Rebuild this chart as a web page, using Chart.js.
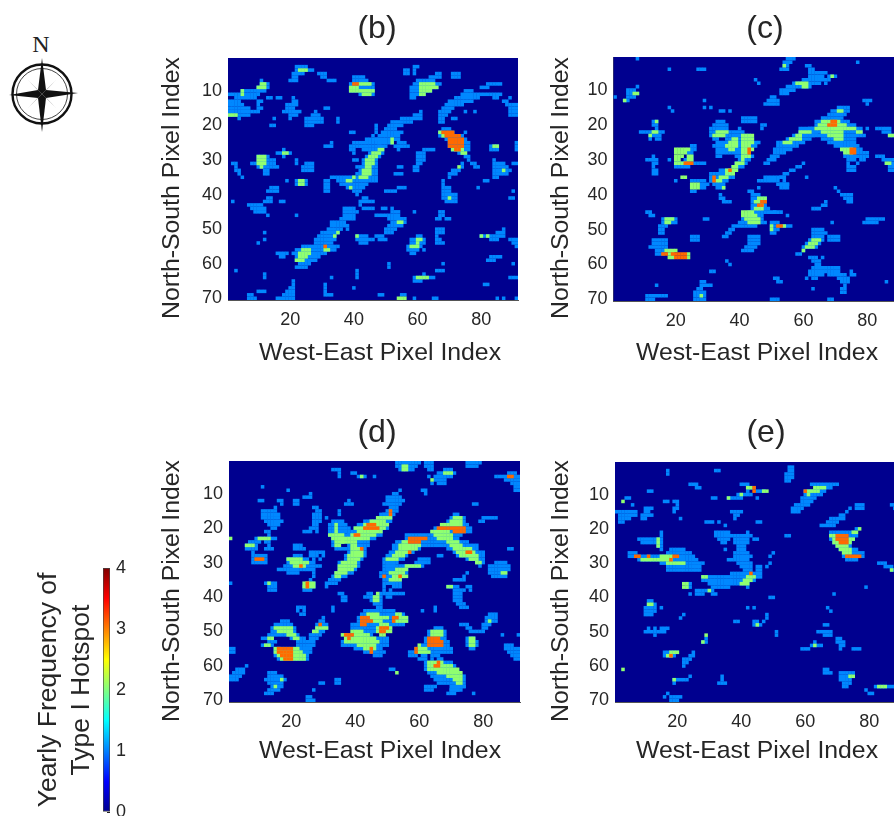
<!DOCTYPE html>
<html><head><meta charset="utf-8">
<script src="https://cdn.jsdelivr.net/npm/chart.js@4"></script>
<style>
html,body{margin:0;padding:0;width:894px;height:816px;overflow:hidden;background:#fff}
canvas{position:absolute}
svg{position:absolute;left:0;top:0}
</style></head><body>
<svg width="90" height="140" viewBox="0 0 90 140">
<text x="41" y="52" font-family="Liberation Serif" font-size="24" text-anchor="middle" fill="#222">N</text>
<circle cx="42" cy="94" r="29.5" fill="none" stroke="#111" stroke-width="2.4"/>
<circle cx="42" cy="94" r="25.5" fill="none" stroke="#444" stroke-width="1"/>
<g fill="#666">
<polygon points="42,94 28,80 38.5,91"/><polygon points="42,94 56,80 45.5,91"/>
<polygon points="42,94 28,108 38.5,97"/><polygon points="42,94 56,108 45.5,97"/>
</g>
<g fill="#111">
<polygon points="42,58 46,90 42,94 38,90"/><polygon points="42,132 46,98 42,94 38,98"/>
<polygon points="9,95 38,90 42,94 38,98"/><polygon points="78,93 46,90 42,94 46,98"/>
</g>
</svg>
<canvas id="b"></canvas><canvas id="c"></canvas><canvas id="d"></canvas><canvas id="e"></canvas><canvas id="bar"></canvas>
<script>
const xTickValues=[20,40,60,80];
const yTickValues=[10,20,30,40,50,60,70];
const colorbarTicks=[0,1,2,3,4];
const colorbarRange=[[0,4]];
const panelTitles=['(b)','(c)','(d)','(e)'];
const xAxisTitle='West-East Pixel Index';
const yAxisTitle='North-South Pixel Index';
const colorbarTitle=['Yearly Frequency of','Type I Hotspot'];
const jetStops=['#00008f','#0000ff','#0080ff','#00ffff','#80ff80','#ffff00','#ff8000','#ff0000','#800000'];
const levelColors={1:'#0088ff',2:'#90ff70',3:'#ff6a00'};

// each run: [north-south row, first west-east column, last west-east column]
const panelB1=[[3,22,25],[4,22,27],[5,21,24],[5,29,31],[6,21,22],[6,30,31],[7,20,22],[7,32,34],[3,59,60],[4,59,59],[5,59,59],[4,56,57],[5,56,57],[5,66,67],[5,71,73],[6,71,73],[6,64,67],[7,60,65],[8,59,67],[9,58,66],[10,58,64],[11,58,62],[12,58,59],
[6,40,43],[7,40,44],[8,39,46],[9,39,46],[10,39,46],[11,42,46],[7,11,11],[8,11,13],[9,10,13],[10,10,12],[10,5,10],[11,1,10],[12,3,9],[12,13,14],[13,1,4],[14,1,5],[15,1,7],[16,1,8],[17,1,7],[18,4,4],[12,16,17],[13,10,11],[14,10,10],[15,10,11],[16,9,10],
[12,21,21],[13,21,22],[14,19,20],[14,21,22],[15,19,21],[16,18,23],[17,20,22],[18,20,20],[15,31,32],[16,28,28],[17,27,29],[18,25,30],[19,25,30],[20,25,27],[18,15,15],[20,14,15],[18,35,35],[19,35,35],
[8,82,86],[9,80,82],[10,75,77],[11,74,86],[12,72,79],[12,84,85],[13,70,77],[13,87,88],[14,69,74],[14,88,91],[15,68,71],[15,89,91],[16,67,70],[16,75,75],[16,78,78],[16,89,91],[17,67,69],[17,89,91],[18,71,72],[12,89,89],
[16,61,61],[17,59,61],[18,55,61],[19,52,58],[20,51,55],[21,50,53],[22,49,55],[23,48,54],[24,47,54],[25,48,52],[25,54,56],[26,48,50],[26,53,57],[27,48,49],[20,47,47],[21,47,47],[22,47,47],[23,46,46],[24,44,47],[25,42,48],[26,42,47],[27,43,47],
[28,45,49],[29,44,48],[30,43,47],[31,43,47],[32,42,47],[33,42,47],[34,41,47],[35,33,47],[36,35,47],[25,33,33],[26,31,33],[22,39,40],[25,40,41],[26,39,41],[27,39,40],[28,40,40],[30,40,41],[32,41,41],[27,54,54],
[27,18,18],[28,16,20],[29,18,18],[29,10,13],[30,10,15],[31,8,15],[32,10,16],[33,12,13],[34,12,13],[31,25,27],[32,24,27],[33,24,27],[30,22,22],[31,22,22],[31,2,3],[32,3,3],[33,3,4],[34,4,4],[35,5,5],
[21,68,70],[22,67,71],[22,75,75],[23,67,74],[24,69,75],[25,70,76],[26,70,76],[27,71,76],[28,73,75],[29,75,76],[30,76,76],[31,77,78],[32,78,79],[18,67,68],[19,67,68],[27,62,65],[28,60,62],[29,60,62],[30,60,62],[31,60,61],[32,59,60],[33,59,60],
[26,83,85],[27,83,85],[25,91,91],[26,91,91],[27,91,91],[30,84,84],[31,84,87],[32,84,88],[33,84,89],[34,84,88],[35,84,85],[31,90,91],[33,71,73],[34,70,72],[35,70,70],[31,74,74],[32,74,74],[32,54,55],[34,53,55],
[36,22,25],[37,22,25],[36,19,19],[36,31,32],[37,31,32],[38,31,32],[39,31,32],[37,36,44],[38,38,43],[39,40,42],[40,41,41],[38,14,16],[39,13,16],[39,50,53],[38,54,56],[36,68,68],[37,68,68],[38,68,70],[39,68,70],[40,68,72],[41,68,72],[42,69,72],
[36,81,82],[38,79,79],[39,90,90],[41,89,90],[42,2,2],[41,13,14],[42,12,14],[43,7,11],[44,8,12],[45,9,12],[46,13,13],[42,17,18],[41,43,44],[42,42,43],[42,44,46],[43,42,42],[44,43,44],[44,45,46],[44,37,40],[45,37,41],[46,37,40],[47,36,40],
[48,33,37],[49,33,38],[50,32,36],[50,38,38],[51,30,35],[52,29,34],[53,28,34],[44,49,50],[46,47,54],[45,52,54],[44,52,52],[47,51,56],[48,52,56],[49,51,55],[50,50,53],[51,50,52],[45,59,59],[46,22,22],[45,67,68],[46,67,68],[47,66,67],[47,69,70],
[50,66,68],[51,66,68],[52,66,66],[53,66,67],[54,66,68],[51,12,12],[53,12,12],[54,10,10],[52,41,44],[53,41,46],[54,42,44],[52,47,49],[53,48,50],[52,60,61],[53,58,62],[54,58,62],[55,57,61],[56,57,60],[57,58,59],[56,62,62],
[50,87,87],[51,85,87],[52,80,87],[53,83,85],[53,89,91],[54,90,91],[55,91,91],[58,83,86],[59,82,84],[60,90,90],[60,68,68],[62,66,68],[60,51,51],[61,51,51],[62,41,41],[63,41,41],[64,41,41],[64,33,33],[63,12,12],[64,12,12],[62,3,3],
[54,28,33],[55,24,33],[56,22,34],[57,21,31],[58,22,29],[59,22,28],[60,23,26],[61,23,25],[61,22,22],[55,34,35],[57,16,19],[58,17,18],[64,59,65],[63,62,62],[65,59,61],[66,81,82],[64,89,91],[67,40,40],[68,10,12],[66,31,31],[67,31,31],[68,31,31],[69,31,33],
[65,21,21],[66,21,21],[67,20,21],[68,19,21],[69,18,21],[70,16,21],[69,7,8],[70,7,9],[69,48,49],[69,55,56],[70,59,59],[70,65,66],[70,85,85],[70,87,87],[70,91,91]];
const panelB2=[[4,23,25],[8,11,12],[9,10,12],[10,5,5],[11,5,5],[17,1,3],[8,61,65],[9,61,66],[10,61,64],[11,61,62],[8,42,45],[9,39,41],[10,39,46],[11,43,45],[24,52,52],[25,52,52],[27,48,49],[28,46,48],[29,45,47],[30,44,46],[31,44,46],[32,44,45],[33,43,45],[34,43,45],[35,42,44],[28,18,19],[29,10,12],[30,10,12],[31,10,12],[32,11,11],[22,67,67],[23,68,68],[27,71,74],[28,74,75],[26,84,85],[33,87,87],[32,73,73],
[36,38,39],[35,40,40],[38,39,39],[36,23,24],[37,23,24],[41,70,70],[48,54,55],[51,35,35],[52,34,34],[52,41,41],[53,60,61],[54,60,60],[55,58,60],[52,80,80],[52,82,82],[56,24,26],[57,23,26],[58,23,25],[59,22,24],[56,31,32],[64,60,63],[70,54,56]];
const panelB3=[[8,40,41],[22,68,71],[23,69,73],[24,70,74],[25,70,74],[26,70,74],[27,72,73],[55,31,31]];

const panelC1=[[1,8,8],[1,55,57],[2,54,56],[2,77,77],[3,54,55],[3,61,62],[4,53,55],[4,62,63],[4,18,18],[4,27,29],[5,62,67],[6,62,66],[6,68,70],[7,60,66],[7,67,68],[8,67,67],[7,45,45],[8,46,46],[8,57,65],[9,55,62],[10,53,57],[11,53,55],
[9,8,8],[10,5,7],[11,5,8],[12,5,7],[13,4,5],[12,1,1],[12,50,51],[13,49,52],[14,48,52],[13,79,81],[14,80,80],[13,29,29],[15,29,29],[15,31,31],[15,18,18],[16,19,19],[16,34,35],[16,37,37],
[18,41,45],[19,41,45],[19,33,35],[20,32,36],[20,47,48],[21,31,36],[21,40,40],[21,47,47],[22,31,41],[23,31,43],[24,32,33],[24,36,44],[25,33,45],[26,32,45],[27,33,43],[28,33,42],[29,33,34],[29,39,44],[30,40,43],[31,39,42],[32,38,41],[33,34,39],[34,31,38],[35,31,38],[36,31,36],[37,32,35],
[31,48,49],[30,49,51],[29,50,52],[28,51,54],[27,51,56],[26,52,58],[25,52,60],[24,55,62],[23,57,63],[22,59,64],[21,59,63],
[15,71,74],[16,69,74],[17,68,73],[18,66,72],[19,64,74],[20,64,76],[21,62,78],[22,63,78],[23,63,79],[24,66,76],[25,68,76],[26,70,77],[27,72,78],[28,73,80],[29,73,80],[30,74,76],[30,78,79],[31,74,74],[31,77,77],[32,74,76],[33,74,76],[21,80,80],[21,83,87],[22,85,87],[23,87,89],
[19,13,14],[20,13,14],[21,14,14],[22,9,16],[23,12,15],[24,12,12],[24,14,15],[26,25,26],[27,25,26],[28,24,25],[29,24,25],[30,23,25],[31,20,29],[32,20,24],[29,13,13],[30,11,14],[31,13,14],[32,13,13],[33,13,14],[34,13,14],[30,18,18],[25,46,46],
[31,60,60],[32,58,59],[33,56,57],[34,54,55],[35,48,54],[36,46,52],[37,52,55],[29,83,85],[30,85,88],[31,86,88],[32,87,88],[33,87,88],
[36,20,20],[36,25,27],[39,25,26],[36,28,29],[37,28,30],[38,28,29],[35,31,36],[36,31,35],[38,33,35],[40,34,34],[41,34,35],[42,35,37],[35,53,54],[36,54,54],[37,53,55],[38,53,55],[35,61,61],[38,46,46],
[39,43,44],[40,44,46],[41,44,48],[42,44,48],[43,44,48],[44,44,49],[45,43,51],[46,42,47],[47,41,47],[48,40,48],[49,40,45],[45,51,53],[46,55,55],[48,50,52],[49,50,56],[50,50,52],[51,50,51],
[50,63,66],[51,63,67],[52,63,66],[53,62,66],[54,61,65],[55,60,64],[56,60,60],[57,59,59],[52,68,71],[53,68,71],[38,70,70],[39,71,71],[40,72,75],[41,73,75],[42,74,75],[42,67,67],[43,66,67],[44,63,65],[45,11,12],[46,12,13],
[47,16,20],[48,16,20],[49,15,17],[50,15,16],[51,15,16],[47,29,30],[49,38,39],[50,37,38],[51,36,37],[52,35,36],[52,25,27],[53,25,27],[53,13,17],[54,13,17],[55,12,17],[56,14,17],[57,14,16],[52,43,46],[53,43,46],[54,43,46],[55,42,45],[56,41,44],[57,58,58],[48,69,69],[47,80,85],[48,79,83],
[58,62,64],[58,66,66],[59,63,65],[60,64,65],[61,63,66],[62,62,66],[63,62,66],[64,61,61],[64,63,64],[61,67,71],[62,67,71],[63,68,71],[63,72,73],[64,71,74],[65,72,74],[66,73,73],[63,75,76],[62,75,75],[67,72,73],[68,72,73],[67,63,63],[65,86,86],[59,36,36],[60,37,37],[62,31,32],[64,51,52],[65,52,53],[66,14,14],[65,28,29],[66,28,31],[67,27,28],[68,26,29],[69,26,29],[70,26,29],[69,11,17],[70,11,13],[70,50,52],[70,68,69]];
const panelC2=[[3,54,54],[6,69,69],[8,58,61],[9,60,61],[11,7,8],[13,4,4],[19,14,14],[22,13,14],[23,12,12],[22,33,36],[23,32,35],[23,41,44],[24,41,44],[25,41,44],[26,41,43],[27,41,44],[28,41,43],[29,41,43],[24,38,39],[25,37,39],[26,36,39],[27,37,38],[30,41,41],[31,39,41],[32,38,39],[33,36,39],[34,36,38],[35,34,36],[36,33,34],
[25,54,56],[24,56,59],[23,58,59],[22,59,61],[22,62,62],[16,71,72],[19,66,71],[20,65,73],[21,64,76],[22,66,72],[23,68,72],[24,70,72],[22,77,78],[27,72,75],[28,73,75],[27,20,24],[28,20,23],[29,20,22],[29,24,25],[30,20,21],[30,24,25],[31,20,23],[23,87,88],[31,86,87],
[35,22,23],[37,25,27],[38,25,27],[38,35,35],[41,46,48],[42,45,46],[43,47,47],[44,45,47],[45,41,44],[46,41,45],[47,42,46],[48,43,46],[49,50,50],[50,50,50],[49,54,54],[53,63,65],[54,62,64],[55,61,63],[56,60,60],[47,17,19],[48,17,18],[56,17,20],[57,18,19],[57,24,24],[58,18,19],[58,24,24],[69,28,28]];
const panelC3=[[19,69,70],[20,68,70],[27,75,76],[28,75,76],[27,43,43],[28,43,43],[31,23,25],[33,37,37],[35,32,32],[36,32,32],[42,47,48],[43,46,47],[49,52,53],[57,16,17],[57,19,23],[58,20,23]];

const panelD1=[[1,53,60],[1,62,64],[1,75,79],[2,53,59],[2,62,64],[2,75,78],[3,54,58],[3,63,64],[3,33,35],[3,68,70],[4,66,71],[5,65,70],[6,65,68],[7,66,68],[4,35,35],[4,39,40],[5,35,35],[5,41,43],[5,46,46],[5,84,91],[6,87,91],[4,88,90],[5,63,63],[7,64,64],[7,89,91],[8,90,91],[9,90,91],[8,11,11],[9,19,19],[9,61,62],[10,62,62],[9,54,54],[10,26,26],[11,24,26],[12,21,22],[12,10,11],[12,16,17],[13,17,17],[14,15,15],[13,21,22],
[10,52,53],[11,50,54],[12,50,55],[13,49,54],[14,51,53],[15,50,53],[16,48,52],[17,48,51],[12,38,38],[13,37,39],[15,35,35],[16,35,35],[14,27,28],[15,28,29],[16,27,29],[17,27,29],[18,27,29],[19,27,28],[20,26,28],[21,24,26],[21,28,28],[15,11,15],[16,11,16],[17,11,16],[18,12,17],[19,13,16],[20,14,15],[17,31,31],[13,77,78],[17,80,84],[18,79,80],
[16,49,50],[17,47,51],[18,43,51],[19,41,50],[20,40,50],[21,39,48],[22,38,48],[23,37,46],[24,36,44],[25,38,44],[26,37,43],[27,38,43],[28,37,43],[29,37,42],[30,35,41],[31,35,41],[32,35,40],[33,34,39],[34,33,37],[35,32,35],[36,31,34],[18,33,36],[19,32,37],[20,32,38],[21,32,38],[22,32,38],[23,33,37],[24,33,36],[25,33,35],[26,34,36],
[16,71,72],[17,70,74],[18,69,74],[19,68,75],[20,65,76],[21,64,76],[22,56,73],[23,56,72],[24,53,75],[25,52,78],[26,52,60],[26,69,78],[27,51,58],[27,71,80],[28,50,56],[28,72,80],[29,49,55],[29,75,80],[30,49,53],[30,78,80],[31,49,52],[31,79,79],[29,60,63],[30,59,63],[31,50,61],[32,49,56],[33,48,56],[34,48,55],[35,49,54],[36,49,54],[37,52,54],[28,66,67],
[21,12,13],[22,13,13],[23,9,15],[24,7,10],[24,12,13],[25,6,9],[25,13,13],[26,6,9],[26,12,14],[27,8,8],[28,8,12],[29,8,12],[30,8,12],[25,21,23],[26,21,24],[27,26,30],[28,26,28],[28,30,30],[29,27,27],[29,29,29],[30,27,27],[31,27,29],[32,27,27],[33,27,27],[34,27,27],[35,26,26],[36,25,27],[37,24,27],
[28,21,23],[29,19,25],[30,19,26],[31,18,26],[32,16,26],[33,19,22],[30,84,87],[31,82,88],[32,82,88],[33,82,87],[34,83,87],[26,88,89],[35,71,74],[33,75,75],[34,74,74],[36,1,1],[36,12,15],[37,13,15],[38,13,15],[38,24,26],[37,31,31],[37,69,72],[37,75,76],[38,71,74],[38,76,76],[39,71,73],[40,71,73],[41,71,73],[42,72,74],[43,73,75],
[39,35,36],[40,36,37],[41,36,37],[37,49,49],[38,49,49],[38,51,51],[39,50,55],[40,50,51],[39,44,45],[40,43,48],[41,45,48],[42,46,48],[43,47,48],[39,48,49],[43,33,33],[44,33,33],[43,22,24],[44,22,22],[44,24,24],[45,23,24],
[44,43,52],[45,42,55],[46,41,56],[47,41,56],[48,39,55],[49,39,51],[50,40,46],[51,38,45],[52,37,50],[53,36,50],[54,36,50],[55,40,48],[56,43,49],[57,46,48],[44,61,61],[43,65,65],[44,65,65],
[49,65,67],[50,63,68],[51,63,68],[52,62,68],[53,62,69],[54,61,69],[55,59,70],[56,57,70],[57,57,59],[57,61,62],[57,64,66],[58,60,62],[58,64,64],[58,66,67],[59,62,70],[60,62,71],[61,62,71],[62,63,72],[63,64,74],[64,65,74],[65,66,74],[66,70,74],[67,70,72],[66,62,65],[67,62,64],[66,71,74],[67,70,73],[68,69,71],[68,77,77],
[48,73,75],[49,75,76],[50,76,80],[49,80,81],[48,80,82],[47,81,84],[46,81,84],[45,82,84],[51,86,86],[51,91,91],[52,75,77],[53,75,78],[54,75,78],[55,76,77],[54,87,89],[55,87,91],[56,88,91],[57,89,91],[58,90,91],
[47,17,19],[48,15,20],[49,14,21],[50,14,21],[51,13,22],[52,11,14],[52,20,24],[53,13,15],[53,22,24],[54,11,14],[54,22,24],[55,15,25],[56,15,25],[57,15,25],[58,16,25],[46,30,30],[47,29,30],[48,28,31],[49,28,31],[50,27,30],[51,26,29],[52,26,28],[53,25,27],[54,25,27],[55,24,26],[56,24,26],
[55,1,2],[56,1,2],[60,6,6],[61,3,5],[62,2,5],[63,1,4],[64,1,3],[62,13,15],[63,13,17],[64,12,18],[65,13,17],[66,14,17],[67,13,16],[68,12,14],[61,51,52],[65,29,30],[67,27,27],[64,34,35],[65,34,35],[69,25,26],[70,25,27]];
const panelD2=[[2,55,56],[3,55,56],[4,68,70],[5,42,42],[6,64,64],[17,51,51],[17,47,50],[18,45,49],[19,43,50],[20,40,49],[21,41,48],[22,39,46],[23,37,44],[24,36,40],[25,39,40],[26,39,41],[27,39,42],[28,38,42],[29,38,41],[30,36,40],[31,35,40],[32,35,39],[33,34,37],[34,34,35],[19,34,34],[20,34,34],[21,34,34],[22,32,36],[23,33,36],[24,34,36],[25,34,35],
[17,71,73],[18,70,73],[19,67,73],[21,64,69],[22,65,70],[23,66,70],[24,69,72],[25,70,73],[26,71,76],[27,72,77],[28,73,78],[29,76,78],[30,78,79],[25,54,60],[26,54,59],[27,53,56],[28,52,55],[29,50,53],[24,55,56],[31,56,60],[32,53,56],[33,51,55],[34,52,56],[35,51,54],
[23,1,1],[23,10,13],[25,6,8],[29,19,23],[30,20,25],[31,21,24],[33,86,87],[36,13,13],[36,24,27],[37,24,27],[37,69,70],[39,47,47],[40,46,47],[41,46,47],
[45,44,47],[45,53,54],[46,45,50],[46,54,56],[47,46,48],[47,53,56],[48,48,50],[49,47,51],[50,47,51],[51,48,49],[50,39,42],[51,36,37],[51,40,44],[52,37,46],[53,37,47],[54,41,46],[55,43,46],
[50,64,67],[51,64,67],[54,60,60],[55,60,62],[56,60,63],[59,63,67],[60,63,70],[61,63,72],[62,66,73],[63,69,73],[64,71,73],[65,72,73],[47,82,82],[52,76,77],[53,76,77],[54,76,77],[49,15,20],[50,16,20],[51,19,21],[52,13,14],[52,21,22],[54,12,13],[55,15,16],[55,21,22],[56,15,23],[57,16,24],[58,17,24],[49,28,31],[50,27,28],[64,17,17],[66,15,15],[62,53,53]];
const panelD3=[[5,88,89],[15,51,51],[16,51,51],[19,44,46],[20,43,47],[22,40,41],[26,42,42],[20,66,74],[21,71,74],[23,57,62],[24,57,60],[27,57,57],[27,75,76],[29,9,11],[31,23,23],[34,49,49],[34,54,54],[36,25,25],[37,25,25],
[46,42,44],[47,42,45],[48,42,43],[46,52,53],[47,52,52],[49,48,50],[50,48,49],[51,37,39],[52,38,38],[55,45,45],[56,45,45],[52,63,66],[53,63,67],[54,63,67],[55,59,59],[56,59,59],[60,65,66],[59,66,66],[48,29,29],[55,16,20],[56,16,20],[57,17,20],[58,18,20]];

const panelE1=[[2,55,56],[3,55,56],[4,54,56],[5,54,56],[6,54,55],[3,17,17],[4,17,17],[3,32,33],[7,40,42],[7,24,26],[7,62,69],[7,70,70],[8,26,27],[8,42,44],[8,64,68],[9,42,42],[9,45,47],[9,11,12],[9,60,66],[10,60,65],[10,39,43],[11,36,40],[11,31,32],[11,45,45],[11,59,63],[12,59,62],[13,57,61],[14,56,59],[15,56,58],[11,4,5],[12,16,17],[12,19,20],[13,20,20],[14,19,20],[15,19,19],[13,6,6],[14,12,12],[14,10,11],
[15,1,7],[15,10,11],[16,2,7],[16,9,12],[17,2,5],[17,9,10],[18,2,3],[15,37,40],[16,38,39],[17,38,38],[17,21,21],[13,76,78],[14,74,74],[14,76,78],[15,73,73],[16,71,72],[17,68,72],[18,67,70],[19,65,69],[13,87,88],[14,88,88],[18,29,31],[18,33,33],[18,45,46],[19,35,35],
[21,32,36],[22,32,37],[23,33,36],[24,34,35],[21,42,42],[22,38,43],[23,38,42],[23,44,45],[24,38,42],[25,39,41],[26,35,35],[26,39,41],[27,38,42],[28,38,43],[29,36,42],[30,39,43],[31,40,43],[32,41,43],[33,37,44],[34,28,44],[35,28,44],[36,30,42],[37,31,36],[31,45,46],[32,45,46],[33,45,46],[34,45,46],[27,50,50],[28,49,49],[30,49,49],[31,48,48],[22,54,55],
[26,18,22],[27,5,7],[27,17,24],[28,5,25],[29,8,26],[30,15,28],[31,17,27],[32,17,27],[21,15,15],[22,15,15],[23,8,15],[24,9,15],[25,14,15],[26,15,15],
[20,76,76],[21,68,75],[22,68,76],[23,68,75],[24,69,74],[25,70,74],[26,71,76],[27,72,78],[28,72,78],[29,73,76],[30,83,85],[31,85,87],[32,87,88],
[36,23,24],[37,23,24],[39,24,24],[38,26,31],[39,26,28],[39,31,32],[37,42,42],[37,79,79],[39,69,69],[40,49,50],[41,11,12],[42,11,13],[43,10,13],[44,10,13],[45,10,12],[43,15,15],[43,42,42],[43,44,44],[43,67,67],[44,68,68],[45,22,22],[46,21,21],[47,38,39],[45,48,48],[46,48,48],[47,47,47],[47,44,45],[48,44,46],[48,66,67],
[50,51,51],[51,51,51],[49,11,11],[49,13,13],[49,15,17],[50,10,16],[51,13,13],[50,64,68],[51,66,68],[52,29,29],[53,28,29],[52,70,71],[53,70,72],[54,71,72],[55,71,71],[53,63,63],[54,62,65],[55,59,61],[55,75,77],[56,16,20],[57,16,19],[56,25,25],[57,24,25],[58,22,24],[59,22,23],[60,22,22],
[61,66,67],[62,66,68],[62,71,75],[63,71,75],[64,71,74],[65,72,74],[66,72,73],[64,19,23],[65,19,19],[63,24,24],[63,34,34],[64,34,34],[65,33,35],[67,79,79],[68,80,81],[66,82,88],[68,17,17],[69,16,16],[69,18,21],[70,18,20]];
const panelE2=[[8,42,43],[9,47,48],[8,63,66],[9,61,64],[10,61,61],[10,40,40],[11,36,36],[12,3,3],[28,15,18],[29,9,18],[30,17,22],[23,14,14],[24,14,14],[25,14,14],[20,77,77],[21,75,76],[22,68,69],[23,69,69],[23,74,75],[24,69,70],[24,74,74],[25,70,73],[26,71,74],[27,72,74],[32,87,87],[34,42,44],[35,41,43],[36,40,42],[34,28,29],
[37,22,23],[36,22,23],[38,30,30],[42,11,12],[48,45,45],[51,29,29],[53,28,28],[54,63,63],[56,18,20],[57,17,18],[61,3,3],[63,74,75],[64,19,19],[66,83,85]];
const panelE3=[[8,44,44],[9,44,44],[9,60,60],[28,7,8],[28,11,11],[28,19,20],[29,18,18],[33,43,43],[22,70,73],[23,70,73],[24,71,73],[28,73,77],[57,18,18]];

const panelData=[[panelB1,panelB2,panelB3],[panelC1,panelC2,panelC3],[panelD1,panelD2,panelD3],[panelE1,panelE2,panelE3]];

function cellsFromRuns(runs){
  const pts=[];
  for(const [row,a,b] of runs){for(let c=a;c<=b;c++)pts.push({x:c,y:row});}
  return pts;
}
const plotBackground={id:'plotBackground',beforeDatasetsDraw(ch){
  const a=ch.chartArea,c=ch.ctx;c.save();c.fillStyle=jetStops[0];c.fillRect(a.left,a.top,a.width,a.height);c.restore();
}};
const FONT='"Liberation Sans", Arial, sans-serif';
const INK='#262626';
function makePanel(id,index,box){
  const el=document.getElementById(id);
  el.style.left=box.left+'px';el.style.top=box.top+'px';
  // Chart.js paints the first dataset last, so the highest level goes first
  const datasets=panelData[index].map((runs,i)=>({
    label:'level '+(i+1),data:cellsFromRuns(runs),pointStyle:'rect',pointRadius:2.5,
    pointBorderWidth:0,pointBackgroundColor:levelColors[i+1],showLine:false
  })).reverse();
  const axisTitles={id:'axisTitles',afterDraw(ch){
    const c=ch.ctx;c.save();c.fillStyle=INK;c.font='24.8px '+FONT;c.textAlign='center';c.textBaseline='middle';
    c.fillText(xAxisTitle,box.xTitleAt[0]-box.left,box.xTitleAt[1]-box.top);
    c.translate(box.yTitleAt[0]-box.left,box.yTitleAt[1]-box.top);c.rotate(-Math.PI/2);
    c.fillText(yAxisTitle,0,0);c.restore();
  }};
  new Chart(el,{type:'scatter',data:{datasets},plugins:[plotBackground,axisTitles],options:{
    responsive:false,animation:false,devicePixelRatio:1,
    plugins:{legend:{display:false},tooltip:{enabled:false},
      title:{display:true,text:panelTitles[index],color:INK,font:{family:FONT,size:32,weight:'normal',lineHeight:1.2},padding:{top:box.titleTop,bottom:box.titleBottom}}},
    scales:{
      x:{type:'linear',min:0.5,max:91.5,position:'bottom',
        afterBuildTicks:s=>{s.ticks=xTickValues.map(v=>({value:v}));},
        afterFit:s=>{s.height=box.xHeight;},
        grid:{drawOnChartArea:false,tickLength:-3,color:'#333'},border:{color:'#555',width:1},
        ticks:{color:INK,font:{family:FONT,size:18},padding:12,maxRotation:0,autoSkip:false}},
      y:{type:'linear',min:0.5,max:70.5,reverse:true,position:'left',
        afterBuildTicks:s=>{s.ticks=yTickValues.map(v=>({value:v}));},
        afterFit:s=>{s.width=box.yWidth;},
        grid:{drawOnChartArea:false,tickLength:-3,color:'#333'},border:{color:'#555',width:1},
        ticks:{color:INK,font:{family:FONT,size:18},padding:9,autoSkip:false}},
      rightGap:{type:'linear',position:'right',display:true,
        afterFit:s=>{s.width=box.rightWidth;},
        grid:{display:false},border:{display:false},ticks:{display:false}}
    }
  }});
}
function sizeCanvas(id,w,h){const el=document.getElementById(id);el.width=w;el.height=h;el.style.width=w+'px';el.style.height=h+'px';}

sizeCanvas('b',440,367);sizeCanvas('c',440,367);sizeCanvas('d',440,367);sizeCanvas('e',440,367);
makePanel('b',0,{left:157,top:0,rightWidth:79,titleTop:10,titleBottom:9.6,xHeight:67,yWidth:71,xTitleAt:[380,353],yTitleAt:[172,188]});
makePanel('c',1,{left:545,top:0,rightWidth:81,titleTop:10,titleBottom:8.6,xHeight:66,yWidth:68.5,xTitleAt:[757,353],yTitleAt:[561,188]});
makePanel('d',2,{left:157,top:402,rightWidth:77,titleTop:11.8,titleBottom:8.8,xHeight:67,yWidth:72,xTitleAt:[380,751],yTitleAt:[172,591]});
makePanel('e',3,{left:546,top:402,rightWidth:80,titleTop:11.8,titleBottom:9.8,xHeight:67,yWidth:69,xTitleAt:[757,751],yTitleAt:[561,591]});

sizeCanvas('bar',122,290);
const barEl=document.getElementById('bar');
barEl.style.left='33px';barEl.style.top='545px';
new Chart(barEl,{type:'bar',data:{labels:['Frequency'],datasets:[{data:colorbarRange,
  backgroundColor(ctx){
    const a=ctx.chart.chartArea;if(!a)return jetStops[4];
    const g=ctx.chart.ctx.createLinearGradient(0,a.bottom,0,a.top);
    jetStops.forEach((col,i)=>g.addColorStop(i/(jetStops.length-1),col));return g;
  },borderColor:'#444',borderWidth:1,borderSkipped:false,barPercentage:1,categoryPercentage:1}]},
  options:{responsive:false,animation:false,devicePixelRatio:1,
    layout:{padding:{top:23,bottom:23,right:0}},
    plugins:{legend:{display:false},tooltip:{enabled:false}},
    scales:{
      x:{display:false},
      y:{type:'linear',min:0,max:4,position:'right',
        afterBuildTicks:s=>{s.ticks=colorbarTicks.map(v=>({value:v}));},
        afterFit:s=>{s.width=45;},
        grid:{drawOnChartArea:false,tickLength:-3,color:'#222'},border:{display:false},
        ticks:{color:INK,font:{family:FONT,size:18},padding:9,autoSkip:false}},
      t:{type:'linear',min:0,max:4,position:'left',
        afterFit:s=>{s.width=70;},
        grid:{display:false},border:{display:false},ticks:{display:false},
        title:{display:true,text:colorbarTitle,color:INK,font:{family:FONT,size:26.5,lineHeight:1.22},padding:0}}
    }
  }
});
</script>
</body></html>
